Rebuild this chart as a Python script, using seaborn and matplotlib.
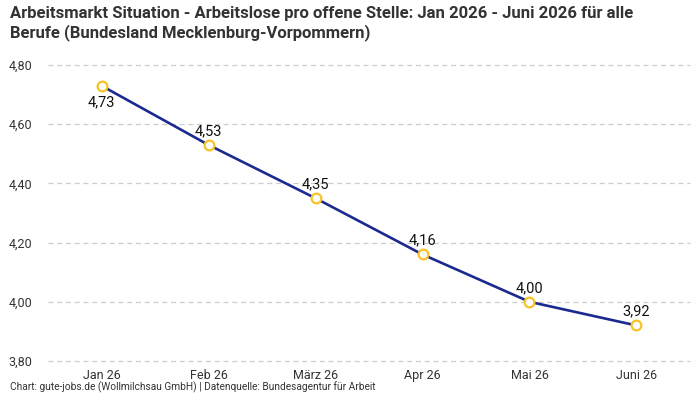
import matplotlib
matplotlib.use("Agg")
import matplotlib.pyplot as plt
import seaborn as sns
import pandas as pd

months = ["Jan 26", "Feb 26", "März 26", "Apr 26", "Mai 26", "Juni 26"]
values = [4.73, 4.53, 4.35, 4.16, 4.00, 3.92]
y_ticks = [3.80, 4.00, 4.20, 4.40, 4.60, 4.80]

title = ("Arbeitsmarkt Situation - Arbeitslose pro offene Stelle: Jan 2026 - Juni 2026 für alle\n"
         "Berufe (Bundesland Mecklenburg-Vorpommern)")
source = "Chart: gute-jobs.de (Wollmilchsau GmbH) | Datenquelle: Bundesagentur für Arbeit"

df = pd.DataFrame({"monat": months, "wert": values})
df["pos"] = range(len(df))

sns.set_theme(style="white")
plt.rcParams["font.family"] = ["Roboto", "DejaVu Sans"]

fig = plt.figure(figsize=(7, 4), dpi=100)
ax = fig.add_axes([0.0686, 0.0975, 0.9171, 0.74])

sns.lineplot(data=df, x="pos", y="wert", ax=ax, color="#1b2a8e", linewidth=1.9,
             marker="o", markersize=7, markerfacecolor="white",
             markeredgecolor="#f7c325", markeredgewidth=1.6)

for i, (p, v) in enumerate(zip(df["pos"], df["wert"])):
    txt = f"{v:.2f}".replace(".", ",")
    if i == 0:
        ax.annotate(txt, (p, v), xytext=(0, -7), textcoords="offset points",
                    ha="center", va="top", fontsize=10.5, color="#111111")
    else:
        ax.annotate(txt, (p, v), xytext=(0, 5), textcoords="offset points",
                    ha="center", va="bottom", fontsize=10.5, color="#111111")

ax.set_xlim(-0.5, len(months) - 0.5)
ax.set_ylim(3.80, 4.80)
ax.set_xticks(df["pos"])
ax.set_xticklabels(months)
ax.set_yticks(y_ticks)
ax.set_yticklabels([f"{t:.2f}".replace(".", ",") for t in y_ticks])
ax.tick_params(axis="both", labelsize=9, colors="#333333", length=0)
ax.tick_params(axis="y", pad=11)
ax.tick_params(axis="x", pad=6)
ax.set_xlabel("")
ax.set_ylabel("")
ax.yaxis.grid(True, linestyle=(0, (4, 3)), color="#cccccc", linewidth=0.9)
ax.xaxis.grid(False)
for g in ax.get_ygridlines():
    g.set_clip_on(False)
for s in ax.spines.values():
    s.set_visible(False)
ax.set_axisbelow(True)

fig.text(0.014, 0.985, title, ha="left", va="top", fontsize=12,
         fontweight="bold", color="#333333", linespacing=1.25)
fig.text(0.014, 0.018, source, ha="left", va="bottom", fontsize=7.3, color="#333333")

fig.savefig("out.png", dpi=100)
